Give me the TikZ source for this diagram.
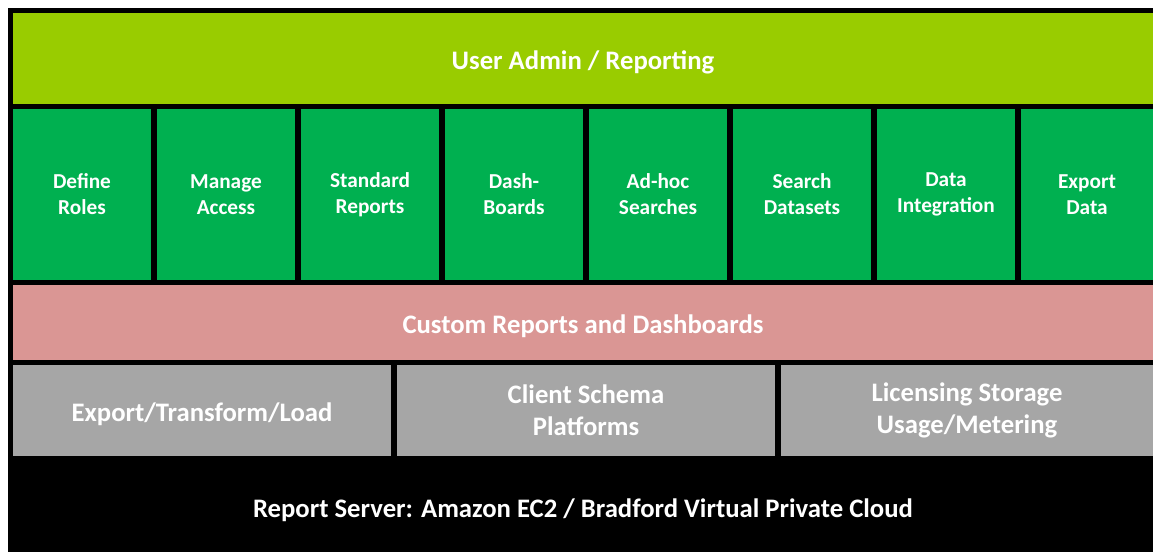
\documentclass[tikz,border=0pt]{standalone}
\usepackage{fontspec}
\setmainfont{Carlito}
\definecolor{lime}{HTML}{99CC00}
\definecolor{leaf}{HTML}{00B050}
\definecolor{rose}{HTML}{DA9694}
\definecolor{ash}{HTML}{A6A6A6}
\begin{document}
\begin{tikzpicture}[x=1pt,y=-1pt,
    cell/.style={anchor=north west,inner sep=0pt,outer sep=0pt,text=white,align=center},
    big/.style={font=\bfseries\fontsize{26.7}{32}\selectfont},
    small/.style={font=\bfseries\fontsize{21.3}{26}\selectfont},
    oneline/.style={text height=21pt,text depth=0pt}]
      \useasboundingbox (0,0) rectangle (1153,552);
      \fill[black] (8,8) rectangle (1153,552);
      \draw
        (13,13) node[cell,big,oneline,fill=lime,minimum width=1140,minimum height=91] (admin){User Admin / Reporting}
        (13,109) node[cell,small,fill=leaf,minimum width=138,minimum height=171] (1){Define\\Roles}
        (157,109) node[cell,small,fill=leaf,minimum width=138,minimum height=171] (2){Manage\\Access}
        (301,109) node[cell,small,fill=leaf,minimum width=138,minimum height=171] (3){Standard\\Reports}
        (445,109) node[cell,small,fill=leaf,minimum width=138,minimum height=171] (4){Dash-\\Boards}
        (589,109) node[cell,small,fill=leaf,minimum width=138,minimum height=171] (5){Ad-hoc\\Searches}
        (733,109) node[cell,small,fill=leaf,minimum width=138,minimum height=171] (6){Search\\Datasets}
        (877,109) node[cell,small,fill=leaf,minimum width=138,minimum height=171] (7){Data\\Integration}
        (1021,109) node[cell,small,fill=leaf,minimum width=132,minimum height=171] (8){Export\\Data}
        (13,285) node[cell,big,oneline,fill=rose,minimum width=1140,minimum height=75] (custom){Custom Reports and Dashboards}
        (13,365) node[cell,big,oneline,fill=ash,minimum width=378,minimum height=91] (etl){Export/Transform/Load}
        (397,365) node[cell,big,fill=ash,minimum width=378,minimum height=91] (schema){Client Schema\\Platforms}
        (781,365) node[cell,big,fill=ash,minimum width=372,minimum height=91] (license){Licensing Storage\\Usage/Metering}
        (13,461) node[cell,big,oneline,minimum width=1140,minimum height=91] (server){Report Server: Amazon EC2 / Bradford Virtual Private Cloud};
    \end{tikzpicture}
\end{document}
